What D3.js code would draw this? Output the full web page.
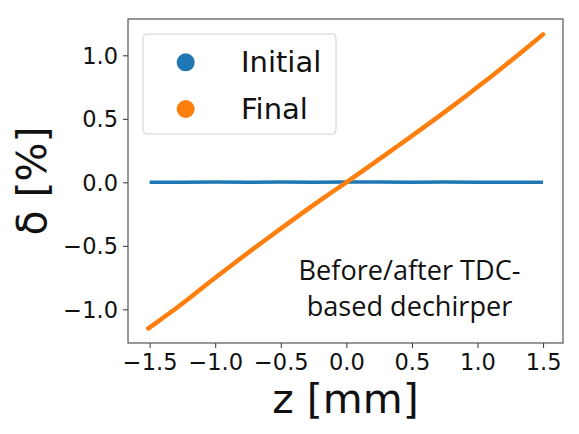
<!DOCTYPE html>
<html><head><meta charset="utf-8">
<script src="https://cdn.jsdelivr.net/npm/d3@7"></script>
<style>html,body{margin:0;padding:0;background:#fff;}svg{display:block;}</style>
</head><body>
<svg id="c" width="579" height="434"></svg>
<script>
// ---- data ----
const finalZ = [-1.51,-1.45,-1.4,-1.3,-1.2,-1.1,-1.0,-0.9,-0.8,-0.7,-0.6,-0.5,-0.4,-0.3,-0.2,-0.1,0.0,0.1,0.2,0.3,0.4,0.5,0.6,0.7,0.8,0.9,1.0,1.1,1.2,1.3,1.4,1.5];
const finalDelta = [-1.150,-1.106,-1.068,-0.993,-0.914,-0.832,-0.752,-0.673,-0.594,-0.516,-0.440,-0.365,-0.290,-0.215,-0.142,-0.070,0.000,0.072,0.145,0.218,0.292,0.366,0.440,0.515,0.592,0.670,0.750,0.830,0.912,0.995,1.080,1.165];
const initialZ = [-1.5,-1.25,-1.0,-0.75,-0.5,-0.25,0.0,0.25,0.5,0.75,1.0,1.25,1.5];
const initialDelta = [0.000,0.001,0.002,0.001,0.002,0.001,0.002,0.002,0.001,0.002,0.001,0.000,0.000];
const xTicks = [-1.5,-1.0,-0.5,0.0,0.5,1.0,1.5];
const yTicks = [-1.0,-0.5,0.0,0.5,1.0];
const seriesNames = ["Initial","Final"];
const colors = ["#1f77b4","#ff7f0e"];
const annotationLines = ["Before/after TDC-","based dechirper"];
const xLabel = "z [mm]";
const yLabel = "δ [%]";

// ---- layout ----
const L = 128, R = 563, T = 19, B = 343;
const svg = d3.select("#c");
const x = d3.scaleLinear().domain([-1.665, 1.652]).range([L, R]);
const y = d3.scaleLinear().domain([-1.265, 1.286]).range([B, T]);
const fmt = d => d3.format(".1f")(d).replace("-", "\u2212");
const font = "DejaVu Sans, sans-serif";

// data lines
const line = d3.line().x(d => x(d[0])).y(d => y(d[1]));
const initData = initialZ.map((z, i) => [z, initialDelta[i]]);
const finData = finalZ.map((z, i) => [z, finalDelta[i]]);
svg.append("path").attr("d", line(initData)).attr("fill", "none")
  .attr("stroke", colors[0]).attr("stroke-width", 3.5);
svg.append("path").attr("d", line(finData)).attr("fill", "none")
  .attr("stroke", colors[1]).attr("stroke-width", 4.5).attr("stroke-linecap", "round");

// axes
const xAxis = svg.append("g").attr("transform", `translate(0,${B})`)
  .call(d3.axisBottom(x).tickValues(xTicks).tickFormat(fmt).tickSize(5).tickPadding(6));
const yAxis = svg.append("g").attr("transform", `translate(${L},0)`)
  .call(d3.axisLeft(y).tickValues(yTicks).tickFormat(fmt).tickSize(5).tickPadding(5));
[xAxis, yAxis].forEach(g => {
  g.select(".domain").remove();
  g.selectAll("line").attr("stroke", "#333").attr("stroke-width", 1);
  g.selectAll("text").attr("font-family", font).attr("font-size", 22.5).attr("fill", "#111");
});
xAxis.selectAll("text").attr("dy", "0.71em");
yAxis.selectAll("text").attr("dy", "0.36em");

// frame
svg.append("rect").attr("x", L).attr("y", T).attr("width", R - L).attr("height", B - T)
  .attr("fill", "none").attr("stroke", "#444").attr("stroke-width", 1.1);

// axis labels
svg.append("text").attr("x", (L + R) / 2).attr("y", 413).attr("text-anchor", "middle")
  .attr("font-family", font).attr("font-size", 41).attr("fill", "#111").text(xLabel);
svg.append("text").attr("transform", `translate(46,${(T + B) / 2}) rotate(-90)`)
  .attr("text-anchor", "middle").attr("font-family", font).attr("font-size", 41)
  .attr("fill", "#111").text(yLabel);

// legend
const lg = svg.append("g");
lg.append("rect").attr("x", 143).attr("y", 34).attr("width", 193).attr("height", 100)
  .attr("rx", 4).attr("fill", "#fff").attr("fill-opacity", 0.8)
  .attr("stroke", "#d0d0d0").attr("stroke-width", 1);
seriesNames.forEach((n, i) => {
  const cy = 62.3 + i * 46.7;
  lg.append("circle").attr("cx", 185.7).attr("cy", cy).attr("r", 9).attr("fill", colors[i]);
  lg.append("text").attr("x", 241).attr("y", cy + 10).attr("font-family", font)
    .attr("font-size", 29).attr("fill", "#111").text(n);
});

// annotation
const ann = annotationLines.map((t, i) =>
  svg.append("text").attr("x", 409.5).attr("y", 280 + i * 36).attr("text-anchor", "middle")
    .attr("font-family", "Open Sans, sans-serif").attr("font-size", 24).attr("fill", "#111").text(t));
const w0 = ann[0].node().getComputedTextLength();
const fs = 24 * 222 / w0;
ann.forEach(a => a.attr("font-size", fs));
</script>
</body></html>
